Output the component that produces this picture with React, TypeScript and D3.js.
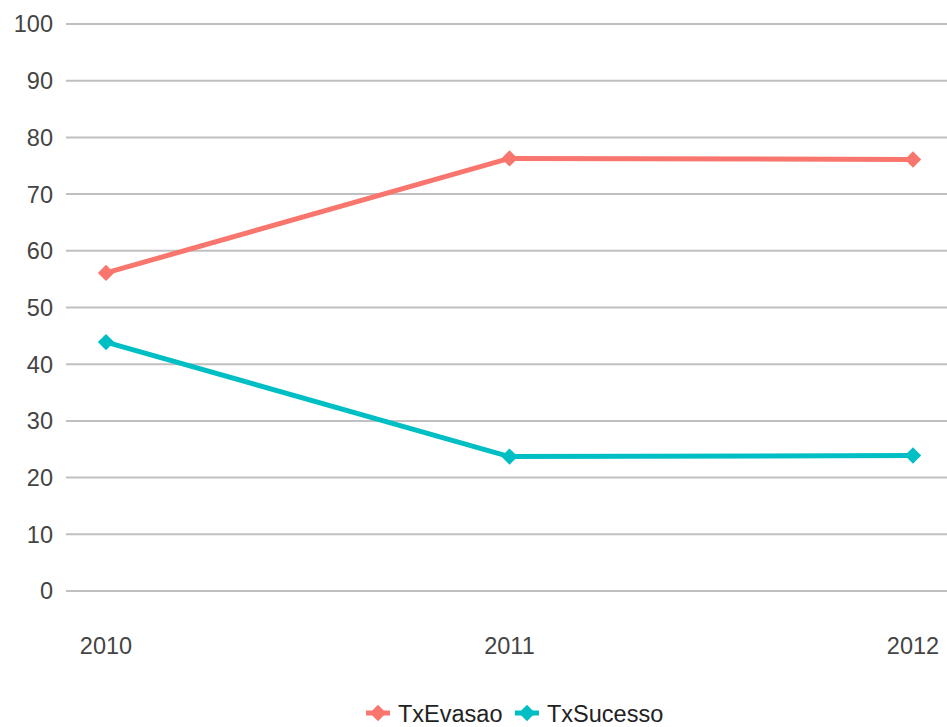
import * as d3 from 'd3'

const years = ['2010', '2011', '2012']
const txEvasao = [56.1, 76.3, 76.1]
const txSucesso = [43.9, 23.7, 23.9]
const yTicks = [0, 10, 20, 30, 40, 50, 60, 70, 80, 90, 100]

const series = [
  {name: 'TxEvasao', values: txEvasao, color: '#F8766D'},
  {name: 'TxSucesso', values: txSucesso, color: '#00BFC4'},
]

export default function App() {
  const width = 947
  const height = 727

  const x = d3.scalePoint<string>().domain(years).range([106, 913])
  const y = d3.scaleLinear().domain([0, 100]).range([591, 24])

  const line = d3.line<number>()
    .x((_, i) => x(years[i]) ?? 0)
    .y(d => y(d))

  const diamond = d3.symbol().type(d3.symbolDiamond2).size(170)()

  const legendItems = [
    {x: 378, textX: 398},
    {x: 527, textX: 547},
  ]

  return (
    <svg
      width={width}
      height={height}
      style={{position: 'absolute', left: 0, top: 0}}
      fontFamily={'Liberation Sans, Arial, sans-serif'}
    >
      <rect width={width} height={height} fill={'#fff'} />
      <g>
        {yTicks.map(t => (
          <g key={t}>
            <line x1={66} x2={width} y1={y(t)} y2={y(t)} stroke={'#c0c0c0'} strokeWidth={2} />
            <text x={53} y={y(t)} dy={'0.36em'} textAnchor={'end'} fontSize={23.5} fill={'#444'}>
              {t}
            </text>
          </g>
        ))}
      </g>
      <g>
        {years.map(yr => (
          <text key={yr} x={x(yr)} y={654} textAnchor={'middle'} fontSize={23.5} fill={'#444'}>
            {yr}
          </text>
        ))}
      </g>
      {series.map(s => (
        <g key={s.name}>
          <path d={line(s.values) ?? undefined} fill={'none'} stroke={s.color} strokeWidth={5} strokeLinejoin={'round'} />
          {s.values.map((v, i) => (
            <path
              key={i}
              d={diamond ?? undefined}
              transform={`translate(${x(years[i])}, ${y(v)})`}
              fill={s.color}
            />
          ))}
        </g>
      ))}
      <g>
        {series.map((s, i) => (
          <g key={s.name}>
            <line x1={legendItems[i].x - 12} x2={legendItems[i].x + 12} y1={713} y2={713} stroke={s.color} strokeWidth={5} />
            <path d={diamond ?? undefined} transform={`translate(${legendItems[i].x}, 713)`} fill={s.color} />
            <text x={legendItems[i].textX} y={722} fontSize={23.5} fill={'#222'}>
              {s.name}
            </text>
          </g>
        ))}
      </g>
    </svg>
  )
}
